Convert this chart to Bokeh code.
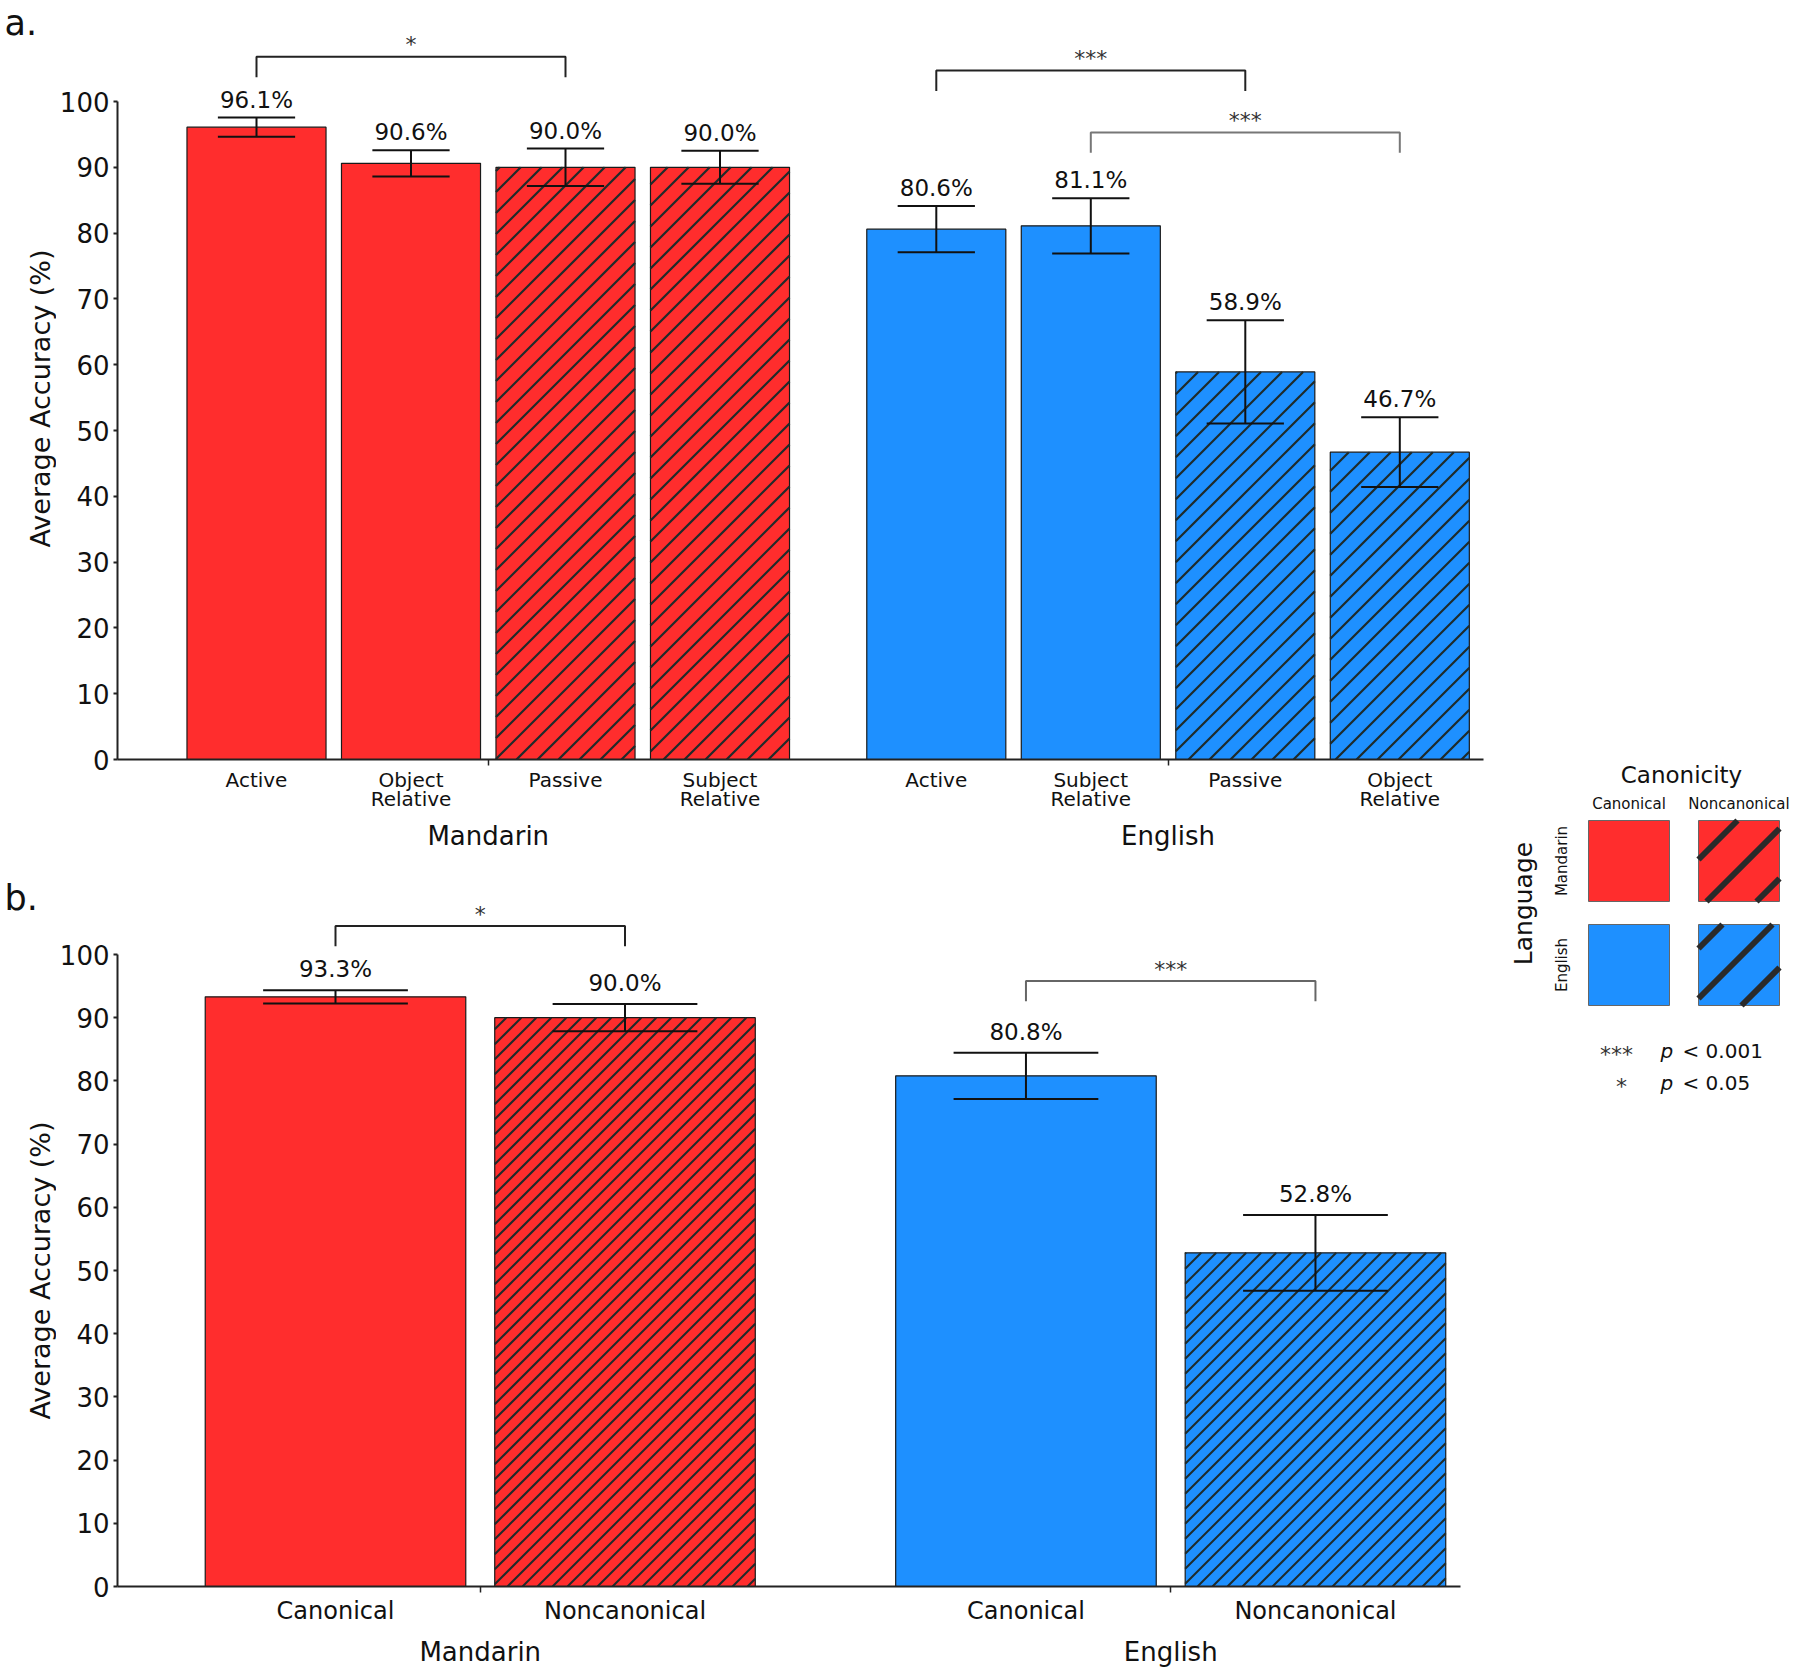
import math
from bokeh.plotting import figure
from bokeh.models import Range1d, FixedTicker, LinearAxis, ColumnDataSource
from bokeh.layouts import row, column
from bokeh.embed import file_html
from bokeh.resources import INLINE
from bokeh.core.properties import value

# ---------------- data ----------------
a_language = ["Mandarin", "Mandarin", "Mandarin", "Mandarin",
              "English", "English", "English", "English"]
a_structure = ["Active", "Object\nRelative", "Passive", "Subject\nRelative",
               "Active", "Subject\nRelative", "Passive", "Object\nRelative"]
a_canonicity = ["Canonical", "Canonical", "Noncanonical", "Noncanonical",
                "Canonical", "Canonical", "Noncanonical", "Noncanonical"]
a_accuracy = [96.1, 90.6, 90.0, 90.0, 80.6, 81.1, 58.9, 46.7]
a_error = [1.45, 2.0, 2.85, 2.5, 3.5, 4.2, 7.85, 5.3]
a_sig_pairs = [(0, 2), (4, 6), (5, 7)]
a_sig_marks = ["*", "***", "***"]

b_language = ["Mandarin", "Mandarin", "English", "English"]
b_canonicity = ["Canonical", "Noncanonical", "Canonical", "Noncanonical"]
b_accuracy = [93.3, 90.0, 80.8, 52.8]
b_error = [1.05, 2.15, 3.65, 6.0]
b_sig_pairs = [(0, 1), (2, 3)]
b_sig_marks = ["*", "***"]

y_ticks = [0, 10, 20, 30, 40, 50, 60, 70, 80, 90, 100]
y_title = "Average Accuracy (%)"
panel_tags = ["a.", "b."]
legend_languages = ["Mandarin", "English"]
legend_canonicity = ["Canonical", "Noncanonical"]
sig_legend_marks = ["***", "*"]
sig_legend_levels = ["0.001", "0.05"]

# ---------------- style ----------------
FONT = "DejaVu Sans"
TXT = "#111111"
LANG_COLOR = {"Mandarin": "#FF2D2D", "English": "#1E90FF"}
HATCHED = {"Canonical": False, "Noncanonical": True}
HATCH_COLOR = "#1f2b2b"
STRIP_W = 56
TOTAL_H = 1676


def build_panel(language, cats, canon, acc, err, pairs, marks, cfg):
    xs = []
    shift = 0.0
    for i, lang in enumerate(language):
        if i > 0 and lang != language[i - 1]:
            shift += cfg["group_gap"]
        xs.append(float(i + shift))
    groups = list(dict.fromkeys(language))
    gx = [sum(x for x, l in zip(xs, language) if l == g) / language.count(g) for g in groups]

    ppx, ppy, L, ox, oy = cfg["ppu_x"], cfg["ppu_y"], 117, STRIP_W, cfg["oy"]
    x_start = -(cfg["first_center"] - L) / ppx

    def dx(px):
        return x_start + (px - L) / ppx

    x_end = dx(cfg["frame_right"])
    y_end = (cfg["frame_bottom"] - cfg["frame_top"]) / ppy

    p = figure(width=cfg["width"], height=cfg["height"],
               x_range=Range1d(x_start, x_end), y_range=Range1d(0, y_end),
               x_axis_type=None, y_axis_type=None,
               output_backend="svg", toolbar_location=None,
               min_border_left=L - ox,
               min_border_right=cfg["width"] - (cfg["frame_right"] - ox),
               min_border_top=cfg["frame_top"] - oy,
               min_border_bottom=cfg["height"] - (cfg["frame_bottom"] - oy),
               outline_line_color=None, background_fill_color="white",
               border_fill_color="white")

    bw = 0.9
    src = ColumnDataSource(dict(
        x=xs, top=acc,
        color=[LANG_COLOR[l] for l in language],
        lo=[a - e for a, e in zip(acc, err)],
        hi=[a + e for a, e in zip(acc, err)],
        cl=[x - 0.25 for x in xs], cr=[x + 0.25 for x in xs],
        lbl=["%.1f%%" % a for a in acc],
    ))
    p.vbar(x="x", top="top", bottom=0, width=bw, source=src,
           fill_color="color", line_color="#1a1a1a", line_width=1.2)

    # 45-degree "/" hatching for noncanonical bars (computed in screen space)
    s = cfg["hatch_step"]
    hx0, hy0, hx1, hy1 = [], [], [], []
    for x, top, c in zip(xs, acc, canon):
        if not HATCHED[c]:
            continue
        X0 = (x - bw / 2 - x_start) * ppx
        X1 = (x + bw / 2 - x_start) * ppx
        T = top * ppy
        k = math.floor(-X1 / s) * s
        while k < T - X0:
            xa = max(X0, -k)
            xb = min(X1, T - k)
            if xb > xa:
                hx0.append(xa / ppx + x_start); hy0.append((xa + k) / ppy)
                hx1.append(xb / ppx + x_start); hy1.append((xb + k) / ppy)
            k += s
    p.segment(x0=hx0, y0=hy0, x1=hx1, y1=hy1, line_color=HATCH_COLOR,
              line_width=cfg["hatch_w"])

    for y0, y1, x0, x1 in [("lo", "hi", "x", "x"), ("hi", "hi", "cl", "cr"), ("lo", "lo", "cl", "cr")]:
        p.segment(x0=x0, y0=y0, x1=x1, y1=y1, source=src, line_color="#111111", line_width=2)
    p.text(x="x", y="hi", text="lbl", source=src, text_font=value(FONT),
           text_font_size="23px", text_align="center", text_baseline="middle",
           y_offset=-cfg["val_gap"], text_color=TXT)

    # significance brackets
    bh = cfg["bracket_h"]
    for (i, j), mark, lv, col in zip(pairs, marks, cfg["bracket_levels"], cfg["bracket_colors"]):
        xi, xj = xs[i], xs[j]
        p.line(x=[xi, xi, xj, xj], y=[lv, lv + bh, lv + bh, lv], line_color=col, line_width=2)
        p.text(x=[(xi + xj) / 2], y=[lv + bh], text=[mark], text_font=value(FONT),
               text_font_size="22px", text_align="center", text_baseline="middle",
               y_offset=-12, text_color="#333333")

    # axes
    yax = LinearAxis(ticker=FixedTicker(ticks=y_ticks), bounds=(0, 100),
                     axis_line_color="#222222", axis_line_width=2,
                     major_tick_out=4, major_tick_in=0, major_tick_line_color="#222222",
                     major_tick_line_width=2, minor_tick_line_color=None,
                     major_label_standoff=4, major_label_text_font=FONT,
                     major_label_text_font_size="26px", major_label_text_color=TXT)
    p.add_layout(yax, "left")

    xax = LinearAxis(ticker=FixedTicker(ticks=xs, minor_ticks=gx),
                     bounds=(x_start, dx(cfg["axis_right"])),
                     major_label_overrides={x: c for x, c in zip(xs, cats)},
                     axis_line_color="#222222", axis_line_width=2,
                     major_tick_line_color=None, major_tick_out=0, major_tick_in=0,
                     minor_tick_line_color="#222222", minor_tick_line_width=1.5,
                     minor_tick_out=6, minor_tick_in=0,
                     major_label_standoff=cfg["cat_standoff"], major_label_text_font=FONT,
                     major_label_text_font_size=cfg["cat_size"], major_label_text_color=TXT,
                     major_label_text_line_height=0.8)
    p.add_layout(xax, "below")
    gax = LinearAxis(ticker=FixedTicker(ticks=gx),
                     major_label_overrides={x: g for x, g in zip(gx, groups)},
                     axis_line_color=None, major_tick_line_color=None, minor_tick_line_color=None,
                     major_tick_out=0, major_tick_in=0, minor_tick_out=0, minor_tick_in=0,
                     major_label_standoff=cfg["grp_standoff"], major_label_text_font=FONT,
                     major_label_text_font_size="26px", major_label_text_color=TXT)
    p.add_layout(gax, "below")
    return p


cfg_a = dict(width=1432, height=870, oy=0, frame_top=30, frame_bottom=759,
             frame_right=1483, axis_right=1483,
             ppu_x=154.5, ppu_y=6.58, first_center=256, group_gap=0.4,
             hatch_step=21, hatch_w=2.2,
             val_gap=18, bracket_h=3.1, bracket_levels=[103.7, 101.6, 92.2],
             bracket_colors=["#222222", "#222222", "#777777"],
             cat_standoff=2, cat_size="20px", grp_standoff=7)
cfg_b = dict(width=1432, height=806, oy=870, frame_top=880, frame_bottom=1586,
             frame_right=1483, axis_right=1460,
             ppu_x=289.5, ppu_y=6.32, first_center=335, group_gap=0.385,
             hatch_step=15, hatch_w=2.0,
             val_gap=21, bracket_h=3.2, bracket_levels=[101.3, 92.6],
             bracket_colors=["#222222", "#666666"],
             cat_standoff=4, cat_size="24px", grp_standoff=9)

pa = build_panel(a_language, a_structure, a_canonicity, a_accuracy, a_error,
                 a_sig_pairs, a_sig_marks, cfg_a)
pb = build_panel(b_language, b_canonicity, b_canonicity, b_accuracy, b_error,
                 b_sig_pairs, b_sig_marks, cfg_b)


def pixel_figure(width):
    f = figure(width=width, height=TOTAL_H, x_range=Range1d(0, width), y_range=Range1d(TOTAL_H, 0),
               x_axis_type=None, y_axis_type=None, output_backend="svg",
               toolbar_location=None, min_border=0, outline_line_color=None,
               background_fill_color="white", border_fill_color="white")
    return f


def ptext(f, x, y, t, size, align="center", angle=0.0, style="normal", color=TXT):
    f.text(x=[x], y=[y], text=[t], text_font=value(FONT), text_font_size=size,
           text_align=align, text_baseline="middle", angle=angle,
           text_font_style=style, text_color=color)


# ---------------- left strip: panel tags and y-axis titles ----------------
strip = pixel_figure(STRIP_W)
ptext(strip, 4, 22, panel_tags[0], "35px", align="left")
ptext(strip, 4, 897, panel_tags[1], "35px", align="left")
ptext(strip, 40, 398, y_title, "27px", angle=math.pi / 2)
ptext(strip, 40, 1270, y_title, "27px", angle=math.pi / 2)

# ---------------- legend (pixel-space figure) ----------------
leg = pixel_figure(310)
cell_left = [100, 210]
cell_top = [820, 924]
cell_phase = [39, 24]
cell_size = 81
leg_step = 50
q = dict(left=[], right=[], top=[], bottom=[], color=[])
lx0, ly0, lx1, ly1 = [], [], [], []
for r, lang in enumerate(legend_languages):
    for c, can in enumerate(legend_canonicity):
        X0, Y0 = cell_left[c], cell_top[r]
        X1, Y1 = X0 + cell_size, Y0 + cell_size
        q["left"].append(X0); q["right"].append(X1)
        q["top"].append(Y0); q["bottom"].append(Y1)
        q["color"].append(LANG_COLOR[lang])
        if HATCHED[can]:
            k = X0 + Y0 + cell_phase[r]
            while k < X1 + Y1:
                xa = max(X0, k - Y1)
                xb = min(X1, k - Y0)
                if xb > xa:
                    lx0.append(xa); ly0.append(k - xa); lx1.append(xb); ly1.append(k - xb)
                k += leg_step
leg.quad(left="left", right="right", top="top", bottom="bottom", source=ColumnDataSource(q),
         fill_color="color", line_color="#666666", line_width=1)
leg.segment(x0=lx0, y0=ly0, x1=lx1, y1=ly1, line_color="#2a2a2a", line_width=6)

ptext(leg, 193, 774, "Canonicity", "23px")
for c, can in enumerate(legend_canonicity):
    ptext(leg, cell_left[c] + cell_size / 2, 803, can, "15px")
ptext(leg, 35, 903, "Language", "25px", angle=math.pi / 2)
for r, lang in enumerate(legend_languages):
    ptext(leg, 73, cell_top[r] + cell_size / 2, lang, "15px", angle=math.pi / 2)
for k, (mk, lvl) in enumerate(zip(sig_legend_marks, sig_legend_levels)):
    mid = 1050.5 + 32 * k
    ptext(leg, 128 + 5 * k, mid + 3, mk, "22px", color="#333333")
    ptext(leg, 172, mid, "p", "20px", align="left", style="italic")
    ptext(leg, 194, mid, "< " + lvl, "20px", align="left")

layout = row(strip, column(pa, pb, spacing=0), leg, spacing=0)
open("out.html", "w").write(file_html(layout, INLINE))
